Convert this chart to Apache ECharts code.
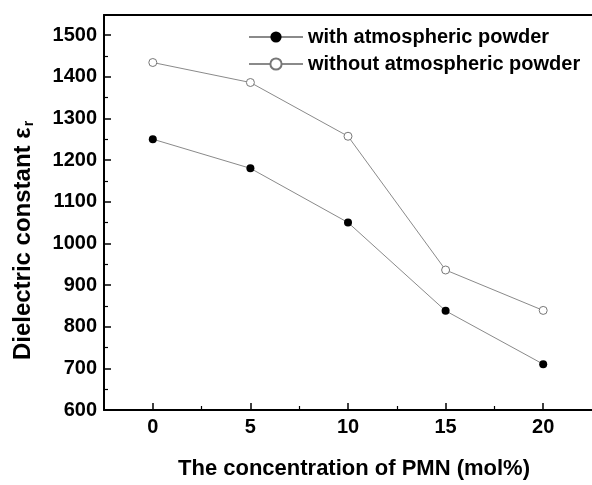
<!DOCTYPE html>
<html><head><meta charset="utf-8">
<script src="https://cdn.jsdelivr.net/npm/echarts@6/dist/echarts.min.js"></script>
<style>html,body{margin:0;padding:0;background:#fff}#c{width:592px;height:485px}</style>
</head><body><div id="c"></div>
<script>
const concentrations = [0, 5, 10, 15, 20];
const withPowder = [1250, 1180, 1050, 838, 710];
const withoutPowder = [1434, 1386, 1257, 936, 839];
const xTickLabels = [0, 5, 10, 15, 20];
const xMinorTicks = [2.5, 7.5, 12.5, 17.5];
const seriesNames = ['with atmospheric powder', 'without atmospheric powder'];

const font = 'Liberation Sans, Arial, sans-serif';
const chart = echarts.init(document.getElementById('c'), null, {renderer: 'canvas'});
const pairs = a => concentrations.map((x, i) => [x, a[i]]);
chart.setOption({
  animation: false,
  backgroundColor: '#fff',
  grid: {left: 104, top: 15, right: -4, bottom: 71},
  legend: {
    orient: 'vertical', left: 243, top: 22, itemWidth: 54, itemHeight: 14, itemGap: 7,
    textStyle: {fontFamily: font, fontWeight: 'bold', fontSize: 20, color: '#000'},
    data: seriesNames
  },
  xAxis: [{
    type: 'value', min: -2.5, max: 22.5, interval: 2.5, position: 'bottom',
    axisLine: {show: true, onZero: false, lineStyle: {color: '#000', width: 2}},
    axisTick: {show: true, inside: true, length: 7, customValues: xTickLabels, lineStyle: {color: '#000', width: 1.5}},
    axisLabel: {customValues: xTickLabels, fontFamily: font, fontWeight: 'bold', fontSize: 20, color: '#000', margin: 7},
    splitLine: {show: false},
    name: 'The concentration of PMN (mol%)', nameLocation: 'middle', nameGap: 48,
    nameTextStyle: {fontFamily: font, fontWeight: 'bold', fontSize: 22, color: '#000', padding: [0, 0, 0, 12]}
  }, {
    type: 'value', min: -2.5, max: 22.5, interval: 2.5, position: 'bottom', offset: 0,
    axisLine: {show: false},
    axisTick: {show: true, inside: true, length: 4, customValues: xMinorTicks, lineStyle: {color: '#000', width: 1.2}},
    axisLabel: {show: false}, splitLine: {show: false}
  }, {
    type: 'value', min: -2.5, max: 22.5, position: 'top',
    axisLine: {show: true, onZero: false, lineStyle: {color: '#000', width: 2}},
    axisTick: {show: false}, axisLabel: {show: false}, splitLine: {show: false}
  }],
  yAxis: {
    type: 'value', min: 600, max: 1548, interval: 100,
    axisLine: {show: true, onZero: false, lineStyle: {color: '#000', width: 2}},
    axisTick: {show: true, inside: true, length: 7, lineStyle: {color: '#000', width: 1.5}},
    minorTick: {show: true, splitNumber: 2, length: 4, lineStyle: {color: '#000', width: 1.2}},
    axisLabel: {fontFamily: font, fontWeight: 'bold', fontSize: 20, color: '#000', margin: 7, showMaxLabel: false,
      formatter: v => String(v)},
    splitLine: {show: false}, minorSplitLine: {show: false},
    name: '{a|Dielectric constant ε}{b|r}', nameLocation: 'middle', nameGap: 68, nameRotate: 90,
    nameTextStyle: {
      rich: {
        a: {fontFamily: font, fontWeight: 'bold', fontSize: 24, color: '#000'},
        b: {fontFamily: font, fontWeight: 'bold', fontSize: 14, color: '#000', verticalAlign: 'bottom', padding: [12, 56, 0, 1]}
      }
    }
  },
  series: [{
    name: seriesNames[0], type: 'line', data: pairs(withPowder),
    symbol: 'circle', symbolSize: 8,
    lineStyle: {color: '#8a8a8a', width: 1},
    itemStyle: {color: '#000', borderColor: '#000', borderWidth: 0}
  }, {
    name: seriesNames[1], type: 'line', data: pairs(withoutPowder),
    symbol: 'circle', symbolSize: 8,
    lineStyle: {color: '#8a8a8a', width: 1},
    itemStyle: {color: '#fff', borderColor: '#777', borderWidth: 1}
  }]
});
</script></body></html>
